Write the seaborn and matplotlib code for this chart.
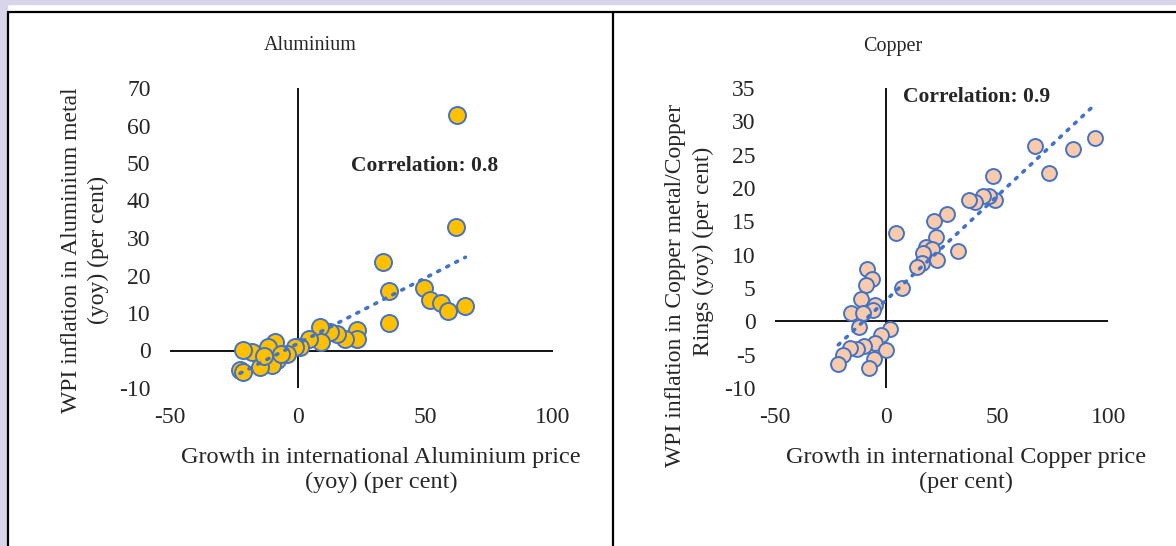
import numpy as np
import pandas as pd
import seaborn as sns
import matplotlib.pyplot as plt
from matplotlib.patches import Rectangle
from matplotlib.lines import Line2D

# aluminium: intl price growth vs WPI inflation (yoy, per cent)
al_x = [62.5, 62.0, 33.5, 35.8, 35.6, 49.5, 51.8, 56.0, 58.8, 65.7, 23.1, 23.3,
        18.5, 15.5, 12.6, 8.7, 9.0, 4.6, 0.9, -1.0, -4.3, -8.9, -11.5, -8.2,
        -10.2, -14.8, -18.0, -21.3, -22.6, -21.3, -13.0, -6.5]
al_y = [62.8, 33.0, 23.7, 15.9, 7.4, 16.6, 13.5, 12.8, 10.6, 11.9, 5.6, 3.2,
        3.2, 4.5, 5.0, 6.3, 2.4, 3.2, 1.0, 1.0, -0.8, 2.4, 1.0, -2.5,
        -3.9, -4.3, -0.3, 0.1, -5.2, -5.6, -1.5, -1.0]

# copper
cu_x = [94.0, 84.3, 67.2, 73.5, 48.2, 49.0, 46.5, 43.7, 40.0, 37.5, 27.5, 21.6,
        22.5, 18.0, 20.5, 16.7, 22.8, 16.3, 13.8, 32.5, 4.3, 7.0, -8.7, -6.5,
        -9.0, -11.3, -5.0, -6.0, -15.9, -10.3, -12.2, 1.8, -2.4, -5.0, -9.8,
        -13.2, -16.2, 0.0, -5.4, -19.5, -21.5, -7.6]
cu_y = [27.5, 25.8, 26.3, 22.2, 21.8, 18.2, 18.8, 18.8, 17.9, 18.2, 16.1, 15.1,
        12.7, 11.2, 10.9, 10.2, 9.2, 8.8, 8.2, 10.5, 13.3, 5.0, 7.8, 6.3,
        5.4, 3.3, 2.4, 1.7, 1.3, 1.2, -0.8, -1.2, -2.1, -3.3, -3.7,
        -4.1, -4.0, -4.3, -5.6, -5.1, -6.4, -7.0]

al = pd.DataFrame({'x': al_x, 'y': al_y})
cu = pd.DataFrame({'x': cu_x, 'y': cu_y})

sns.set_style("white")
plt.rcParams['font.family'] = ['Liberation Serif', 'DejaVu Serif']

W, H = 1176, 546
fig = plt.figure(figsize=(W / 100, H / 100), dpi=100, facecolor='white')

# lavender frame + black panel borders
lav = '#d8d4e9'
fig.patches.append(Rectangle((0, 1 - 4 / H), 1, 4 / H, transform=fig.transFigure, color=lav, zorder=0))
fig.patches.append(Rectangle((0, 0), 7 / W, 1, transform=fig.transFigure, color=lav, zorder=0))
fig.lines.append(Line2D([8 / W, 1], [1 - 11.7 / H, 1 - 11.7 / H], transform=fig.transFigure, color='black', lw=1.6))
fig.lines.append(Line2D([8 / W, 8 / W], [0, 1 - 11.7 / H], transform=fig.transFigure, color='black', lw=1.6))
fig.lines.append(Line2D([613 / W, 613 / W], [0, 1 - 11.7 / H], transform=fig.transFigure, color='black', lw=1.6))

def px_axes(x0, x1, y0, y1):
    return fig.add_axes([x0 / W, 1 - y1 / H, (x1 - x0) / W, (y1 - y0) / H])

ax1 = px_axes(170, 553, 88, 388)
ax2 = px_axes(775, 1108.3, 88, 388)

blue = '#4472c4'

def draw(ax, df, face, size, xlim, ylim, yticks):
    sns.scatterplot(data=df, x='x', y='y', ax=ax, s=size, color=face,
                    edgecolor=blue, linewidth=1.4, zorder=3)
    sns.regplot(data=df, x='x', y='y', ax=ax, scatter=False, ci=None,
                line_kws={'color': blue, 'lw': 2.6, 'ls': (0, (0.6, 2.2)),
                          'dash_capstyle': 'round', 'zorder': 4})
    ax.axhline(0, color='black', lw=1.3, zorder=2)
    ax.axvline(0, color='black', lw=1.3, zorder=2)
    ax.set_xlim(xlim)
    ax.set_ylim(ylim)
    ax.set_xticks([-50, 0, 50, 100])
    ax.set_yticks(yticks)
    ax.set_xticklabels(['-50', '0', '50', '100'])
    ax.set_yticklabels([str(t) for t in yticks])
    ax.tick_params(axis='x', length=0, pad=14, labelsize=17)
    ax.tick_params(axis='y', length=0, pad=14, labelsize=17)
    ax.set_xlabel('')
    ax.set_ylabel('')
    sns.despine(ax=ax, left=True, bottom=True)
    ax.patch.set_alpha(0)

draw(ax1, al, '#ffc000', 150, (-50, 100), (-10, 70), list(range(-10, 71, 10)))
draw(ax2, cu, '#f8cbad', 115, (-50, 100), (-10, 35), list(range(-10, 36, 5)))

ax1.text(49.9, 49.2, 'Correlation: 0.8', ha='center', va='center', fontsize=15.5, fontweight='bold')
ax2.text(40.5, 33.6, 'Correlation: 0.9', ha='center', va='center', fontsize=15.5, fontweight='bold')

def ftext(x, y, s, **kw):
    fig.text(x / W, 1 - y / H, s, ha='center', va='center', **kw)

ftext(310, 46, 'Aluminium', fontsize=14.5)
ftext(893, 46, 'Copper', fontsize=14.5)

ftext(381, 470, 'Growth in international Aluminium price\n(yoy) (per cent)', fontsize=17.5, linespacing=1.25)
ftext(966, 470, 'Growth in international Copper price\n(per cent)', fontsize=17.5, linespacing=1.25)

ftext(85, 250, 'WPI inflation in Aluminium metal\n(yoy) (per cent)', fontsize=17, rotation=90, linespacing=1.3)
ftext(675, 285, 'WPI inflation in Copper metal/Copper', fontsize=17, rotation=90)
ftext(703, 251, 'Rings (yoy) (per cent)', fontsize=17, rotation=90)

fig.savefig('out.png', dpi=100, facecolor=fig.get_facecolor())
